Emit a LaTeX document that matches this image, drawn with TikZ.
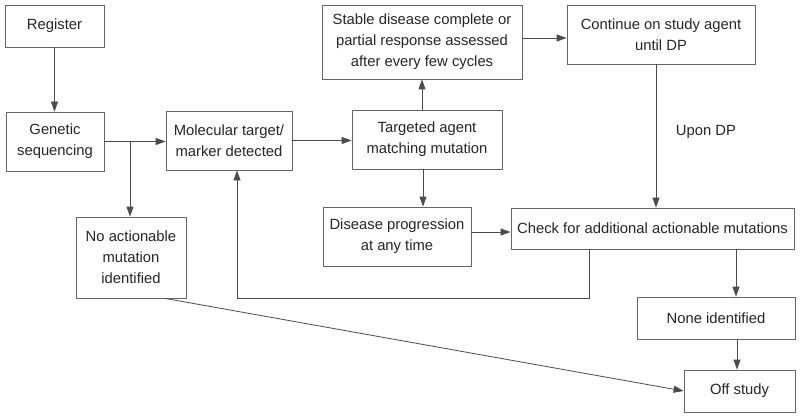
\documentclass[tikz,border=0pt]{standalone}
\usepackage{fontspec}
\setmainfont{Liberation Sans}
\usetikzlibrary{arrows.meta,calc}
\begin{document}
\begin{tikzpicture}[x=1pt,y=-1pt,
  box/.style={draw=black!60, line width=0.8pt, fill=white, align=center, inner sep=0pt,
    font=\fontsize{14.8}{21}\selectfont, text=black!85},
  arr/.style={draw=black!70, line width=0.8pt, -{Triangle[length=10pt,width=7pt]}},
  ln/.style={draw=black!70, line width=0.8pt}]
\useasboundingbox[fill=white] (0,0) rectangle (800,417);
\node[box, minimum width=99pt, minimum height=42pt] (reg) at (54.5,26) {Register};
\node[box, minimum width=98pt, minimum height=59pt] (gen) at (55,141.5) {Genetic\\sequencing};
\node[box, minimum width=126pt, minimum height=59pt] (mol) at (229,140.5) {Molecular target/\\marker detected};
\node[box, minimum width=150pt, minimum height=59pt] (tgt) at (427,139.5) {Targeted agent\\matching mutation};
\node[box, minimum width=200pt, minimum height=74pt] (stab) at (422,42) {Stable disease complete or\\partial response assessed\\after every few cycles};
\node[box, minimum width=188pt, minimum height=59pt] (cont) at (661,34.5) {Continue on study agent\\until DP};
\node[box, minimum width=148pt, minimum height=59pt] (dis) at (397,236.5) {Disease progression\\at any time};
\node[box, minimum width=283pt, minimum height=41pt] (chk) at (652.5,228.5) {Check for additional actionable mutations};
\node[box, minimum width=110pt, minimum height=81pt] (noact) at (131,257.5) {No actionable\\mutation\\identified};
\node[box, minimum width=158pt, minimum height=42pt] (none) at (716,318) {None identified};
\node[box, minimum width=111pt, minimum height=42pt] (off) at (739.5,391) {Off study};
\node[font=\fontsize{14.8}{21}\selectfont, text=black!85] (upon) at (706,132) {Upon DP};
\coordinate (fb) at (589,298);

\draw[arr] (reg.south) -- (reg.south |- gen.north);
\draw[arr] (gen.east) -- (gen.east -| mol.west);
\draw[arr] ([xshift=-1pt]gen.east -| noact.north) -- ([xshift=-1pt]noact.north);
\draw[arr] (mol.east) -- (mol.east -| tgt.west);
\draw[arr] (tgt.north -| stab.south) -- (stab.south);
\draw[arr] ([yshift=4pt]stab.east) -- ([yshift=4pt]stab.east -| cont.west);
\draw[arr] ([xshift=-5pt]cont.south) -- ([xshift=-5pt]cont.south |- chk.north);
\draw[arr] ([xshift=-4pt]tgt.south) -- ([xshift=-4pt]tgt.south |- dis.north);
\draw[arr] ([yshift=-3.5pt]chk.west -| dis.east) -- ([yshift=-3.5pt]chk.west);
\draw[arr] (chk.south -| fb) -- (fb) -| ([xshift=8pt]mol.south);
\draw[arr] ([xshift=20pt]none.north |- chk.south) -- ([xshift=20pt]none.north);
\draw[arr] ([xshift=-2.5pt]off.north |- none.south) -- ([xshift=-2.5pt]off.north);
\draw[arr] ([xshift=34pt]noact.south) -- (off.west);
\end{tikzpicture}
\end{document}
